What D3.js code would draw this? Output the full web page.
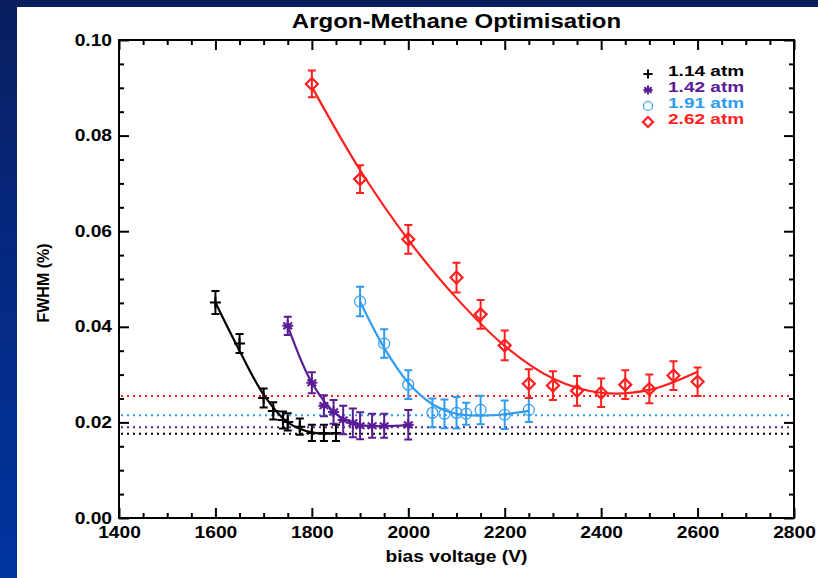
<!DOCTYPE html>
<html>
<head>
<meta charset="utf-8">
<script src="https://cdn.jsdelivr.net/npm/d3@7"></script>
<style>
  html, body { margin: 0; padding: 0; background: #ffffff; }
  svg { display: block; }
  text { font-family: "Liberation Sans", Arial, Helvetica, sans-serif; font-weight: bold; }
</style>
</head>
<body>
<svg id="chart" width="818" height="578"></svg>
<script>
// ---- measurements: bias voltage (V) vs FWHM (%) at four gas pressures ----
const voltage114 = [1600, 1650, 1700, 1720, 1740, 1750, 1775, 1800, 1825, 1850];
const fwhm114    = [0.0451, 0.0365, 0.0251, 0.0224, 0.0205, 0.0201, 0.0191, 0.0178, 0.0178, 0.0178];
const err114     = [0.0024, 0.0020, 0.0020, 0.0018, 0.0018, 0.0018, 0.0017, 0.0017, 0.0017, 0.0017];

const voltage142 = [1750, 1800, 1825, 1845, 1865, 1885, 1900, 1925, 1950, 2000];
const fwhm142    = [0.0402, 0.0283, 0.0235, 0.0222, 0.0205, 0.0199, 0.0193, 0.0193, 0.0193, 0.0195];
const err142     = [0.0019, 0.0022, 0.0022, 0.0025, 0.0030, 0.0030, 0.0028, 0.0025, 0.0025, 0.0031];

const voltage191 = [1900, 1950, 2000, 2050, 2075, 2100, 2120, 2150, 2200, 2250];
const fwhm191    = [0.0453, 0.0365, 0.0279, 0.0220, 0.0218, 0.0220, 0.0218, 0.0226, 0.0216, 0.0226];
const err191     = [0.0031, 0.0030, 0.0030, 0.0030, 0.0030, 0.0033, 0.0023, 0.0030, 0.0030, 0.0025];

const voltage262 = [1800, 1900, 2000, 2100, 2150, 2200, 2250, 2300, 2350, 2400, 2450, 2500, 2550, 2600];
const fwhm262    = [0.0908, 0.0709, 0.0583, 0.0503, 0.0426, 0.0361, 0.0281, 0.0277, 0.0266, 0.0262, 0.0279, 0.0270, 0.0298, 0.0285];
const err262     = [0.0028, 0.0029, 0.0030, 0.0031, 0.0030, 0.0031, 0.0030, 0.0030, 0.0031, 0.0030, 0.0030, 0.0030, 0.0030, 0.0030];

// ---- fitted curves (sampled) ----
const fitV114 = [1600, 1650, 1700, 1750, 1800, 1850];
const fitY114 = [0.0451, 0.0350, 0.0258, 0.0200, 0.0179, 0.0177];
const fitV142 = [1750, 1800, 1850, 1900, 1950, 2000];
const fitY142 = [0.0402, 0.0283, 0.0218, 0.0195, 0.0192, 0.0195];
const fitV191 = [1900, 1950, 2000, 2050, 2100, 2150, 2200, 2250];
const fitY191 = [0.0453, 0.0356, 0.0283, 0.0238, 0.0218, 0.0214, 0.0217, 0.0224];
const fitV262 = [1800, 1900, 2000, 2100, 2200, 2300, 2400, 2500, 2600];
const fitY262 = [0.0902, 0.0728, 0.0582, 0.0460, 0.0360, 0.0292, 0.0262, 0.0268, 0.0306];

// ---- minimum FWHM levels (dotted guide lines) ----
const minimumLevels = [0.0255, 0.0215, 0.0190, 0.0176];

// ---- labels and ticks ----
const seriesLabels = ["1.14 atm", "1.42 atm", "1.91 atm", "2.62 atm"];
const xMajorTicks = [1400, 1600, 1800, 2000, 2200, 2400, 2600, 2800];
const yMajorTicks = [0.00, 0.02, 0.04, 0.06, 0.08, 0.10];
const titleText = "Argon-Methane Optimisation";
const xTitle = "bias voltage (V)";
const yTitle = "FWHM (%)";

const colors = { black: "#000000", purple: "#5a1c96", blue: "#2f9cf0", red: "#ff1f1f" };

const series = [
  { key: "p114", v: voltage114, y: fwhm114, e: err114, fv: fitV114, fy: fitY114, color: colors.black,  symbol: "plus",     label: seriesLabels[0] },
  { key: "p142", v: voltage142, y: fwhm142, e: err142, fv: fitV142, fy: fitY142, color: colors.purple, symbol: "asterisk", label: seriesLabels[1] },
  { key: "p191", v: voltage191, y: fwhm191, e: err191, fv: fitV191, fy: fitY191, color: colors.blue,   symbol: "circle",   label: seriesLabels[2] },
  { key: "p262", v: voltage262, y: fwhm262, e: err262, fv: fitV262, fy: fitY262, color: colors.red,    symbol: "diamond",  label: seriesLabels[3] }
];
const levelColors = [colors.red, colors.blue, colors.purple, colors.black];

const W = 818, H = 578;
const plot = { left: 119, right: 794, top: 40, bottom: 518 };
const STRETCH = 1.2;

const svg = d3.select("#chart");

// page frame: navy top band and a blue band on the left
const defs = svg.append("defs");
const grad = defs.append("linearGradient").attr("id", "sideBand")
  .attr("x1", 0).attr("y1", 0).attr("x2", 0).attr("y2", 1);
grad.append("stop").attr("offset", "0%").attr("stop-color", "#0a1e5e");
grad.append("stop").attr("offset", "35%").attr("stop-color", "#06267a");
grad.append("stop").attr("offset", "100%").attr("stop-color", "#0035a0");
svg.append("rect").attr("x", 0).attr("y", 0).attr("width", W).attr("height", H).attr("fill", "#ffffff");
svg.append("rect").attr("x", 0).attr("y", 0).attr("width", W).attr("height", 7).attr("fill", "#0a1e5e");
svg.append("rect").attr("x", 0).attr("y", 0).attr("width", 17).attr("height", H).attr("fill", "url(#sideBand)");

const x = d3.scaleLinear().domain([1400, 2800]).range([plot.left, plot.right]);
const y = d3.scaleLinear().domain([0, 0.10]).range([plot.bottom, plot.top]);

function stretch(sel, k) {
  sel.each(function () {
    const w = this.getComputedTextLength();
    this.setAttribute("textLength", w * k);
    this.setAttribute("lengthAdjust", "spacingAndGlyphs");
  });
}

// ---- axes with inward ticks on all four sides ----
const xMinor = d3.range(1400, 2801, 50).filter(v => v % 200 !== 0);
const yMinor = d3.range(0, 21).map(i => +(i * 0.005).toFixed(3)).filter((v, i) => i % 4 !== 0);

function styleAxis(g) {
  g.select(".domain").remove();
  g.selectAll(".tick line").attr("stroke", "#000").attr("stroke-width", 2);
}

svg.append("g").attr("transform", `translate(0,${plot.bottom})`)
  .call(d3.axisBottom(x).tickValues(xMajorTicks).tickSize(-10).tickPadding(9).tickFormat(d3.format("d")))
  .call(styleAxis)
  .call(g => g.selectAll("text").attr("font-size", 16).attr("fill", "#000").attr("font-family", null));
svg.append("g").attr("transform", `translate(0,${plot.bottom})`)
  .call(d3.axisBottom(x).tickValues(xMinor).tickSize(-5).tickFormat(""))
  .call(styleAxis);
svg.append("g").attr("transform", `translate(0,${plot.top})`)
  .call(d3.axisTop(x).tickValues(xMajorTicks).tickSize(-10).tickFormat(""))
  .call(styleAxis);
svg.append("g").attr("transform", `translate(0,${plot.top})`)
  .call(d3.axisTop(x).tickValues(xMinor).tickSize(-5).tickFormat(""))
  .call(styleAxis);

svg.append("g").attr("transform", `translate(${plot.left},0)`)
  .call(d3.axisLeft(y).tickValues(yMajorTicks).tickSize(-10).tickPadding(7).tickFormat(d3.format(".2f")))
  .call(styleAxis)
  .call(g => g.selectAll("text").attr("font-size", 16).attr("fill", "#000").attr("font-family", null));
svg.append("g").attr("transform", `translate(${plot.left},0)`)
  .call(d3.axisLeft(y).tickValues(yMinor).tickSize(-5).tickFormat(""))
  .call(styleAxis);
svg.append("g").attr("transform", `translate(${plot.right},0)`)
  .call(d3.axisRight(y).tickValues(yMajorTicks).tickSize(-10).tickFormat(""))
  .call(styleAxis);
svg.append("g").attr("transform", `translate(${plot.right},0)`)
  .call(d3.axisRight(y).tickValues(yMinor).tickSize(-5).tickFormat(""))
  .call(styleAxis);

svg.selectAll(".tick text").call(stretch, STRETCH);

// frame
svg.append("rect")
  .attr("x", plot.left).attr("y", plot.top)
  .attr("width", plot.right - plot.left).attr("height", plot.bottom - plot.top)
  .attr("fill", "none").attr("stroke", "#000").attr("stroke-width", 2);

// ---- dotted minimum levels ----
svg.append("g").selectAll("line").data(minimumLevels).join("line")
  .attr("x1", plot.left + 2).attr("x2", plot.right - 2)
  .attr("y1", d => y(d)).attr("y2", d => y(d))
  .attr("stroke", (d, i) => levelColors[i])
  .attr("stroke-width", 2).attr("stroke-dasharray", "2,4");

// ---- fitted curves ----
const fitLine = d3.line().x(d => x(d[0])).y(d => y(d[1])).curve(d3.curveCatmullRom.alpha(0.5));
series.forEach(s => {
  svg.append("path")
    .attr("d", fitLine(s.fv.map((v, i) => [v, s.fy[i]])))
    .attr("fill", "none").attr("stroke", s.color).attr("stroke-width", 2.2);
});

// ---- markers ----
function markerPath(type, cx, cy, r) {
  switch (type) {
    case "plus":
      return `M${cx - r},${cy}H${cx + r}M${cx},${cy - r}V${cy + r}`;
    case "asterisk": {
      const d = r * 0.8;
      return `M${cx},${cy - r}V${cy + r}M${cx - d},${cy - d * 0.75}L${cx + d},${cy + d * 0.75}M${cx - d},${cy + d * 0.75}L${cx + d},${cy - d * 0.75}` +
             `M${cx - r},${cy}H${cx + r}`;
    }
    case "diamond":
      return `M${cx},${cy - r}L${cx + r},${cy}L${cx},${cy + r}L${cx - r},${cy}Z`;
    case "circle":
      return `M${cx + r},${cy}A${r},${r} 0 1 1 ${cx - r},${cy}A${r},${r} 0 1 1 ${cx + r},${cy}`;
  }
}
const markerSize = { plus: 5.5, asterisk: 5.5, circle: 5.5, diamond: 6 };
const markerWidth = { plus: 2, asterisk: 2, circle: 1.2, diamond: 2.2 };

series.forEach(s => {
  const g = svg.append("g").attr("class", s.key);
  const pts = s.v.map((v, i) => ({ v, y: s.y[i], e: s.e[i] }));
  // error bars
  g.selectAll("path.err").data(pts).join("path").attr("class", "err")
    .attr("d", d => {
      const cx = x(d.v), y0 = y(d.y - d.e), y1 = y(d.y + d.e), c = 4;
      return `M${cx},${y0}V${y1}M${cx - c},${y0}H${cx + c}M${cx - c},${y1}H${cx + c}`;
    })
    .attr("fill", "none").attr("stroke", s.color).attr("stroke-width", 2);
  // symbols
  g.selectAll("path.sym").data(pts).join("path").attr("class", "sym")
    .attr("d", d => markerPath(s.symbol, x(d.v), y(d.y), markerSize[s.symbol]))
    .attr("fill", "none").attr("stroke", s.color).attr("stroke-width", markerWidth[s.symbol]);
});

// ---- legend ----
const legendRowY = [71, 87, 103, 119];
const legend = svg.append("g");
series.forEach((s, i) => {
  legend.append("path")
    .attr("d", markerPath(s.symbol, 648, legendRowY[i] + 3, s.symbol === "diamond" ? 5 : 4.5))
    .attr("fill", "none").attr("stroke", s.color).attr("stroke-width", markerWidth[s.symbol]);
  legend.append("text")
    .attr("x", 668).attr("y", legendRowY[i]).attr("dy", "0.36em")
    .attr("font-size", 14).attr("fill", s.color)
    .text(s.label)
    .call(stretch, 1.36);
});

// ---- titles ----
svg.append("text")
  .attr("x", (plot.left + plot.right) / 2).attr("y", 28)
  .attr("text-anchor", "middle").attr("font-size", 20).attr("fill", "#000")
  .text(titleText).call(stretch, STRETCH);

svg.append("text")
  .attr("x", (plot.left + plot.right) / 2).attr("y", 562)
  .attr("text-anchor", "middle").attr("font-size", 16).attr("fill", "#000")
  .text(xTitle).call(stretch, STRETCH);

svg.append("text")
  .attr("transform", `translate(49,${(plot.top + plot.bottom) / 2 + 4}) rotate(-90)`)
  .attr("text-anchor", "middle").attr("font-size", 16).attr("fill", "#000")
  .text(yTitle).call(stretch, 1.0);
</script>
</body>
</html>
